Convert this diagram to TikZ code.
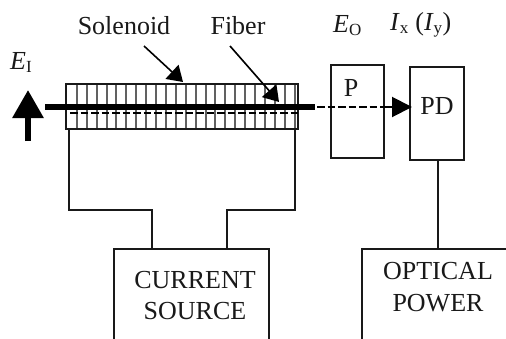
\documentclass[tikz,border=0pt]{standalone}
\usepackage{fontspec}
\setmainfont{Liberation Serif}
\usetikzlibrary{arrows.meta}
\tikzset{
  box/.style={draw=black!90,line width=1.9pt,rectangle,inner sep=0pt,outer sep=0pt,anchor=north west},
  lab/.style={inner sep=0pt,anchor=base,font=\fontsize{26}{31}\selectfont,text=black!90},
  wire/.style={draw=black!90,line width=2pt},
  fiber/.style={draw=black,line width=6pt},
  pointer/.style={draw=black,line width=1.6pt,-{Triangle[length=15pt,width=19pt]}},
  coil/.style={draw=black!62,line width=2pt},
  beam/.style={draw=black,line width=2pt,dash pattern=on 7.5pt off 3pt},
}
\newcommand{\subsc}[1]{\textsubscript{\fontsize{17}{17}\selectfont #1}}
\begin{document}
\begin{tikzpicture}[x=1pt,y=-1pt]
\useasboundingbox (0,0) rectangle (506,338);
\clip (0,0) rectangle (506,338);
% boxes
\node[box,minimum width=232pt,minimum height=45pt] (sol) at (66,84) {};
\node[box,minimum width=53pt,minimum height=93pt] (p) at (331,65) {};
\node[box,minimum width=54pt,minimum height=93pt] (pd) at (410,67) {};
\node[box,minimum width=155pt,minimum height=110pt] (cs) at (114,249) {};
\node[box,minimum width=160pt,minimum height=110pt] (op) at (362,249) {};
% coil
\foreach \i in {1,...,23} {
  \pgfmathsetmacro{\cx}{round(67+\i*9.9)}
  \draw[coil] (\cx,85) -- (\cx,128);
}
% coordinates
\coordinate (fa) at (45,107);
\coordinate (fb) at (315,107);
\coordinate (da) at (70,113);
\coordinate (db) at (298,113);
\coordinate (ba) at (317,107);
\coordinate (bb) at (385,107);
\coordinate (ah) at (412,107);
\coordinate (ua) at (28,141);
\coordinate (ub) at (28,90);
\coordinate (sa) at (144,46);
\coordinate (sb) at (183,82);
\coordinate (ta) at (230,46);
\coordinate (tb) at (279,102);
\coordinate (w1) at (69,129);
\coordinate (w2) at (69,210);
\coordinate (w3) at (152,210);
\coordinate (w4) at (152,249);
\coordinate (w5) at (295,129);
\coordinate (w6) at (295,210);
\coordinate (w7) at (227,210);
\coordinate (w8) at (227,249);
\coordinate (w9) at (438,160);
\coordinate (w10) at (438,249);
% beam and fibre
\draw[beam] (da) -- (db);
\draw[fiber] (fa) -- (fb);
\draw[beam] (ba) -- (bb);
\draw[draw=black,line width=2pt,-{Triangle[length=20pt,width=20pt]}] (bb) -- (ah);
% arrows
\draw[draw=black,line width=6pt,-{Triangle[length=28pt,width=30pt]}] (ua) -- (ub);
\draw[pointer] (sa) -- (sb);
\draw[pointer] (ta) -- (tb);
% wires
\draw[wire] (w1) -- (w2) -- (w3) -- (w4);
\draw[wire] (w5) -- (w6) -- (w7) -- (w8);
\draw[wire] (w9) -- (w10);
% labels
\node[lab] (t1) at (124,34) {Solenoid};
\node[lab] (t2) at (238,34) {Fiber};
\node[lab,anchor=base west] (t3) at (10,69) {\textit{E}\subsc{I}};
\node[lab,anchor=base west] (t4) at (333,32) {\textit{E}\subsc{O}};
\node[lab,anchor=base west] (t5) at (390,30) {\textit{I}\subsc{x} (\textit{I}\subsc{y})};
\node[lab] (t6) at (351,96) {P};
\node[lab] (t7) at (437,114) {PD};
\node[lab] (t8a) at (195,288) {CURRENT};
\node[lab] (t8b) at (195,319) {SOURCE};
\node[lab] (t9a) at (438,279) {OPTICAL};
\node[lab] (t9b) at (438,311) {POWER};
\end{tikzpicture}
\end{document}
